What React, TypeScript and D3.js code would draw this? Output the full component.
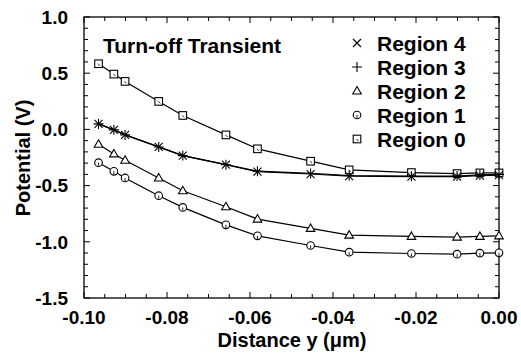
import * as d3 from "d3"

// distance y (µm) shared by all regions
const distance = [-0.0965, -0.0928, -0.0901, -0.082, -0.0762, -0.0658, -0.0582, -0.0454, -0.0361, -0.0211, -0.0101, -0.0046, 0]

const region0 = [0.584, 0.492, 0.427, 0.249, 0.124, -0.049, -0.173, -0.283, -0.36, -0.384, -0.393, -0.387, -0.387]
const region1 = [-0.296, -0.373, -0.432, -0.59, -0.694, -0.849, -0.947, -1.033, -1.092, -1.104, -1.11, -1.101, -1.098]
const region2 = [-0.132, -0.218, -0.275, -0.432, -0.546, -0.688, -0.798, -0.881, -0.941, -0.952, -0.958, -0.952, -0.947]
const region3 = [0.049, -0.004, -0.049, -0.156, -0.233, -0.314, -0.372, -0.392, -0.41, -0.416, -0.415, -0.405, -0.4]
const region4 = [0.049, -0.004, -0.049, -0.156, -0.233, -0.314, -0.376, -0.397, -0.415, -0.421, -0.421, -0.412, -0.406]

const xTicks = [-0.1, -0.08, -0.06, -0.04, -0.02, 0]
const yTicks = [1.0, 0.5, 0.0, -0.5, -1.0, -1.5]

const legendItems = [
  { name: "Region 4", marker: "x" },
  { name: "Region 3", marker: "plus" },
  { name: "Region 2", marker: "triangle" },
  { name: "Region 1", marker: "circle" },
  { name: "Region 0", marker: "square" },
]

const series = [
  { values: region0, marker: "square" },
  { values: region1, marker: "circle" },
  { values: region2, marker: "triangle" },
  { values: region3, marker: "plus" },
  { values: region4, marker: "x" },
]

const font = "'Liberation Sans', Arial, Helvetica, sans-serif"

function Marker({ type, cx, cy }: { type: string; cx: number; cy: number }) {
  const s = { fill: "none", stroke: "#000", strokeWidth: 1.1 }
  if (type === "square") {
    return (
      <g>
        <rect x={cx - 3.8} y={cy - 3.8} width={7.6} height={7.6} {...s} fill="#fff" />
        <line x1={cx - 0.5} y1={cy} x2={cx + 1.5} y2={cy + 2} stroke="#000" strokeWidth={0.9} />
      </g>
    )
  }
  if (type === "circle") {
    return (
      <g>
        <circle cx={cx} cy={cy} r={3.8} {...s} fill="#fff" />
        <line x1={cx} y1={cy} x2={cx} y2={cy + 3} stroke="#000" strokeWidth={0.9} />
      </g>
    )
  }
  if (type === "triangle") {
    return <path d={`M${cx},${cy - 4.5}L${cx + 4.3},${cy + 3}L${cx - 4.3},${cy + 3}Z`} {...s} fill="#fff" />
  }
  if (type === "plus") {
    return <path d={`M${cx - 5},${cy}H${cx + 5}M${cx},${cy - 5}V${cy + 5}`} {...s} />
  }
  return <path d={`M${cx - 4},${cy - 4}L${cx + 4},${cy + 4}M${cx - 4},${cy + 4}L${cx + 4},${cy - 4}`} {...s} />
}

export default function App() {
  const width = 521
  const height = 354
  const margin = { top: 17, right: 22, bottom: 56, left: 84 }
  const innerW = width - margin.left - margin.right
  const innerH = height - margin.top - margin.bottom

  const x = d3.scaleLinear().domain([-0.1, 0]).range([0, innerW])
  const y = d3.scaleLinear().domain([-1.5, 1.0]).range([innerH, 0])

  const line = d3
    .line<number>()
    .x((d, i) => x(distance[i]))
    .y((d) => y(d))

  const xMinor = d3.range(-0.1, 0.0001, 0.005).map((v) => +v.toFixed(3))
  const yMinor = d3.range(-1.5, 1.0001, 0.1).map((v) => +v.toFixed(2))

  return (
    <svg width={width} height={height} style={{ position: "absolute", left: 0, top: 0, background: "#fff" }}>
      <g transform={`translate(${margin.left},${margin.top})`}>
        {/* ticks, inward on all four sides */}
        {xMinor.map((v) => {
          const major = xTicks.some((t) => Math.abs(t - v) < 1e-6)
          const len = major ? 6 : 4
          return (
            <g key={"xt" + v}>
              <line x1={x(v)} x2={x(v)} y1={innerH} y2={innerH - len} stroke="#000" strokeWidth={1} />
              <line x1={x(v)} x2={x(v)} y1={0} y2={len} stroke="#000" strokeWidth={1} />
            </g>
          )
        })}
        {yMinor.map((v) => {
          const major = yTicks.some((t) => Math.abs(t - v) < 1e-6)
          const len = major ? 6 : 4
          return (
            <g key={"yt" + v}>
              <line x1={0} x2={len} y1={y(v)} y2={y(v)} stroke="#000" strokeWidth={1} />
              <line x1={innerW} x2={innerW - len} y1={y(v)} y2={y(v)} stroke="#000" strokeWidth={1} />
            </g>
          )
        })}
        <rect x={0} y={0} width={innerW} height={innerH} fill="none" stroke="#000" strokeWidth={1.3} />

        {/* tick labels */}
        {xTicks.map((t) => (
          <text
            key={"xl" + t}
            x={x(t)}
            y={innerH + 26}
            textAnchor="middle"
            fontFamily={font}
            fontWeight="bold"
            fontSize={19}
          >
            {t.toFixed(2)}
          </text>
        ))}
        {yTicks.map((t) => (
          <text
            key={"yl" + t}
            x={-16}
            y={y(t)}
            dy="0.36em"
            textAnchor="end"
            fontFamily={font}
            fontWeight="bold"
            fontSize={19}
          >
            {t.toFixed(1)}
          </text>
        ))}

        {/* series */}
        {series.map((s, si) => (
          <g key={"s" + si}>
            <path d={line(s.values) || ""} fill="none" stroke="#000" strokeWidth={1.2} />
            {s.values.map((v, i) => (
              <Marker key={i} type={s.marker} cx={x(distance[i])} cy={y(v)} />
            ))}
          </g>
        ))}

        <text x={19} y={36} fontFamily={font} fontWeight="bold" fontSize={21}>
          Turn-off Transient
        </text>

        {/* legend */}
        {legendItems.map((item, i) => (
          <g key={item.name} transform={`translate(0,${26 + i * 24})`}>
            <Marker type={item.marker} cx={273} cy={0} />
            <text x={293} y={0} dy="0.36em" fontFamily={font} fontWeight="bold" fontSize={21}>
              {item.name}
            </text>
          </g>
        ))}
      </g>

      <text
        x={292}
        y={347}
        textAnchor="middle"
        fontFamily={font}
        fontWeight="bold"
        fontSize={20}
      >
        Distance y (μm)
      </text>
      <text
        transform={`translate(30,158) rotate(-90)`}
        textAnchor="middle"
        fontFamily={font}
        fontWeight="bold"
        fontSize={20}
      >
        Potential (V)
      </text>
    </svg>
  )
}
